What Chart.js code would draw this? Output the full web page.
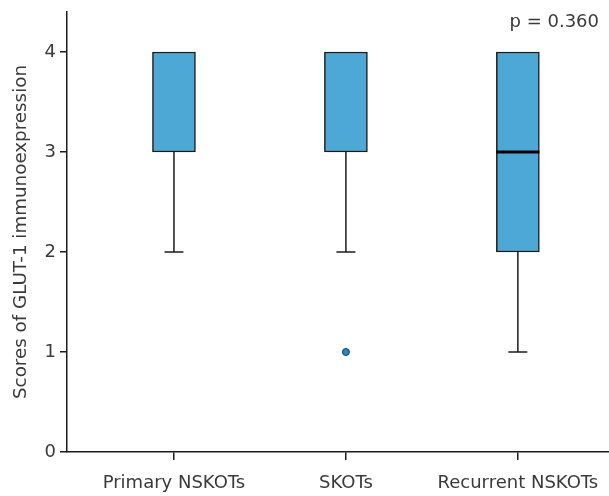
<!DOCTYPE html>
<html>
<head>
<meta charset="utf-8">
<script src="https://cdn.jsdelivr.net/npm/chart.js@4"></script>
<style>
  html, body { margin: 0; padding: 0; background: #fff; overflow: hidden; }
  #wrap { width: 609px; height: 496px; position: relative; }
  #chart_box { display: block; }
</style>
</head>
<body>
<div id="wrap"><canvas id="chart_box"></canvas></div>
<script>
const categories = ['Primary NSKOTs', 'SKOTs', 'Recurrent NSKOTs'];
const whiskerLow = [2, 2, 1];
const q1 = [3, 3, 2];
const medians = [4, 4, 3];
const q3 = [4, 4, 4];
const whiskerHigh = [4, 4, 4];
const outliers = [{x: 2, y: 1}];
const yTicks = [0, 1, 2, 3, 4];
const pText = 'p = 0.360';

const ink = '#1c1c1c';
const textColor = '#3a3a3a';
const boxFill = '#4ea8d5';

// whiskers behind the boxes, medians + p value on top
const boxExtras = {
    id: 'boxExtras',
    beforeDatasetsDraw(chart) {
        const x = chart.scales.x, y = chart.scales.y, ctx = chart.ctx;
        ctx.save();
        ctx.strokeStyle = ink;
        ctx.lineWidth = 1.5;
        categories.forEach((c, i) => {
            const px = x.getPixelForValue(i + 1);
            [[q1[i], whiskerLow[i]], [q3[i], whiskerHigh[i]]].forEach(([from, to]) => {
                if (from === to) return;
                const a = y.getPixelForValue(from), b = y.getPixelForValue(to);
                ctx.beginPath();
                ctx.moveTo(px, a); ctx.lineTo(px, b);
                ctx.moveTo(px - 9.5, b); ctx.lineTo(px + 9.5, b);
                ctx.stroke();
            });
        });
        ctx.restore();
    },
    afterDatasetsDraw(chart) {
        const x = chart.scales.x, y = chart.scales.y, ctx = chart.ctx;
        ctx.save();
        ctx.strokeStyle = '#000';
        ctx.lineWidth = 3;
        categories.forEach((c, i) => {
            if (medians[i] <= q1[i] || medians[i] >= q3[i]) return;
            const px = x.getPixelForValue(i + 1), py = y.getPixelForValue(medians[i]);
            ctx.beginPath();
            ctx.moveTo(px - 21.5, py); ctx.lineTo(px + 21.5, py);
            ctx.stroke();
        });
        ctx.fillStyle = textColor;
        ctx.font = '18px "DejaVu Sans"';
        ctx.textAlign = 'right';
        ctx.textBaseline = 'middle';
        ctx.fillText(pText, chart.chartArea.right - 10, chart.chartArea.top + 10);
        ctx.restore();
    }
};

const ctx = document.getElementById('chart_box').getContext('2d');
const boxChart = new Chart(ctx, {
    type: 'bar',
    data: {
        datasets: [{
            label: 'IQR',
            data: categories.map((c, i) => ({x: i + 1, y: [q1[i], q3[i]]})),
            backgroundColor: boxFill,
            borderColor: ink,
            borderWidth: 1.5,
            borderSkipped: false,
            barThickness: 43
        }, {
            type: 'scatter',
            label: 'Outliers',
            data: outliers,
            backgroundColor: '#1b8fbe',
            borderColor: '#1a3a4a',
            borderWidth: 1,
            pointRadius: 3.5
        }]
    },
    options: {
        responsive: true,
        maintainAspectRatio: false,
        animation: false,
        layout: { autoPadding: false, padding: { top: 12, right: 0, left: 0, bottom: 0 } },
        plugins: { legend: { display: false }, tooltip: { enabled: false } },
        scales: {
            x: {
                type: 'linear',
                offset: false,
                min: 0.378,
                max: 3.53,
                afterBuildTicks: s => { s.ticks = categories.map((c, i) => ({value: i + 1})); },
                afterFit: s => { s.height = 44; s.paddingLeft = 0; s.paddingRight = 0; },
                ticks: {
                    callback: v => categories[v - 1],
                    autoSkip: false,
                    maxRotation: 0,
                    color: textColor,
                    font: { family: 'DejaVu Sans', size: 18 },
                    padding: 13
                },
                grid: { display: true, offset: false, drawOnChartArea: false, drawTicks: true, tickLength: 8, color: ink, lineWidth: 1.5 },
                border: { display: true, color: ink, width: 1.5 }
            },
            y: {
                min: 0,
                max: 4.4,
                afterBuildTicks: s => { s.ticks = yTicks.map(v => ({value: v})); },
                afterFit: s => { s.width = 67; s.paddingTop = 0; s.paddingBottom = 0; },
                ticks: {
                    color: textColor,
                    font: { family: 'DejaVu Sans', size: 18 },
                    padding: 4
                },
                grid: { display: true, drawOnChartArea: false, drawTicks: true, tickLength: 7, color: ink, lineWidth: 1.5 },
                border: { display: true, color: ink, width: 1.5 },
                title: {
                    display: true,
                    text: 'Scores of GLUT-1 immunoexpression',
                    color: textColor,
                    font: { family: 'DejaVu Sans', size: 18.3 },
                    padding: { top: 10, bottom: 6 }
                }
            }
        }
    },
    plugins: [boxExtras]
});
</script>
</body>
</html>
